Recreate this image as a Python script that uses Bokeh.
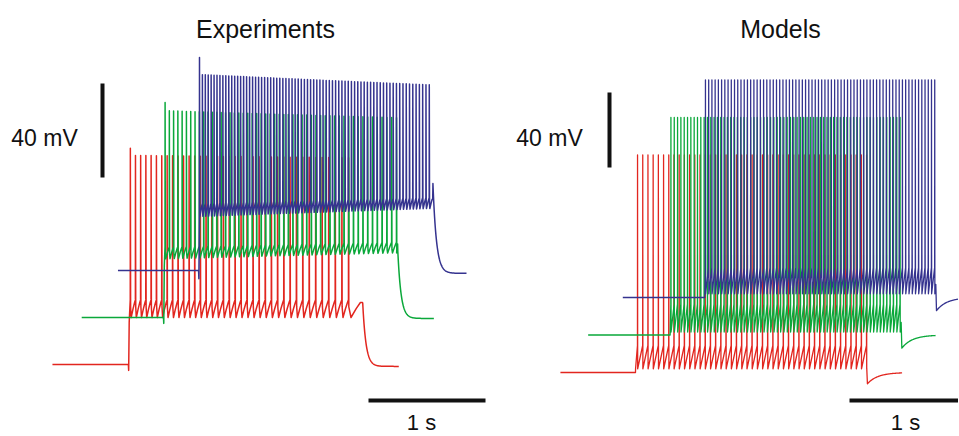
import numpy as np
from bokeh.plotting import figure
from bokeh.layouts import row
from bokeh.models import Range1d, Label
from bokeh.embed import file_html
from bokeh.resources import INLINE

# ---------------- data ----------------
trace_colors = ["#e2261f", "#0aa83a", "#35338f"]   # low, mid, high current step
STIM_DURATION_S = 2.0

# Experiments: recorded traces (time relative to current onset, seconds; voltage mV)
exp_start_s = [-0.65, -0.70, -0.69]
exp_end_s = [2.31, 2.31, 2.29]
exp_rest_mV = [-70.0, -70.0, -70.0]
exp_rest_after_mV = [-70.8, -70.4, -71.2]
exp_onset_dip_mV = [-72.5, -72.5, -73.5]
exp_step_mV = [-52.0, -48.0, -49.0]
exp_first_spike_s = [0.015, 0.012, 0.006]
exp_last_spike_s = [1.88, 1.99, 1.97]
exp_spike_count = [38, 52, 75]
exp_isi_adaptation = [1.30, 1.14, 1.14]
exp_peak_first_mV = [22.0, 21.5, 20.6]
exp_peak_early_mV = [19.0, 18.0, 13.4]
exp_peak_late_mV = [18.0, 15.0, 9.0]
exp_trough_early_mV = [-50.0, -45.0, -47.0]
exp_trough_late_mV = [-50.0, -42.5, -43.6]
exp_thr_early_mV = [-42.5, -40.0, -41.5]
exp_thr_late_mV = [-42.5, -38.0, -39.0]
exp_end_bump_mV = [-44.0, -42.0, -33.0]
exp_decay_tau_s = [0.028, 0.028, 0.03]

# Models: simulated traces
mod_start_s = [-0.65, -0.71, -0.71]
mod_end_s = [2.31, 2.30, 2.35]
mod_rest_mV = [-70.0, -70.0, -70.0]
mod_first_spike_s = [0.017, 0.006, 0.005]
mod_last_spike_s = [2.0, 1.99, 1.99]
mod_spike_count = [45, 70, 72]
mod_peak_mV = [46.0, 46.0, 46.0]
mod_trough_mV = [-68.0, -68.4, -68.0]
mod_thr_mV = [-55.6, -53.5, -54.0]
mod_post_dip_mV = [-76.0, -77.0, -77.0]
mod_recovery_tau_s = [0.09, 0.09, 0.09]

titles = ["Experiments", "Models"]
volt_bar_label = "40 mV"
time_bar_label = "1 s"
VOLT_BAR_MV = 40.0
TIME_BAR_S = 1.0

# ---------------- layout / style constants ----------------
STAGGER_S = 0.3
STAGGER_MV = 20.0
H = 435
FONT = "Liberation Sans"


def spike_times(first, last, n, ratio):
    w = np.linspace(1.0, ratio, n - 1)
    isi = w / w.sum() * (last - first)
    return np.concatenate([[first], first + np.cumsum(isi)])


def exp_trace(i):
    ts = spike_times(exp_first_spike_s[i], exp_last_spike_s[i], exp_spike_count[i], exp_isi_adaptation[i])
    n = len(ts)
    t = [exp_start_s[i], -0.001, 0.0015, 0.006]
    v = [exp_rest_mV[i], exp_rest_mV[i], exp_onset_dip_mV[i], exp_step_mV[i]]
    for k in range(n):
        f = k / (n - 1)
        pk = exp_peak_first_mV[i] if k == 0 else exp_peak_early_mV[i] + (exp_peak_late_mV[i] - exp_peak_early_mV[i]) * f
        tr = exp_trough_early_mV[i] + (exp_trough_late_mV[i] - exp_trough_early_mV[i]) * f
        th = exp_thr_early_mV[i] + (exp_thr_late_mV[i] - exp_thr_early_mV[i]) * f
        nxt = ts[k + 1] if k + 1 < n else STIM_DURATION_S
        isi = nxt - ts[k]
        s = ts[k]
        t += [s, s + 0.0008, s + 0.003, s + 0.18 * isi, s + 0.55 * isi, s + 0.85 * isi]
        v += [th, pk, th - 3, tr, tr + 0.5 * (th - tr), tr + 0.85 * (th - tr)]
    t += [STIM_DURATION_S, STIM_DURATION_S + 0.002]
    v += [v[-1], exp_end_bump_mV[i]]
    td = np.arange(STIM_DURATION_S + 0.004, exp_end_s[i], 0.003)
    vd = exp_rest_after_mV[i] + (exp_end_bump_mV[i] - exp_rest_after_mV[i]) * np.exp(-(td - STIM_DURATION_S - 0.002) / exp_decay_tau_s[i])
    t = np.concatenate([t, td])
    v = np.concatenate([v, vd])
    return t, v


def mod_trace(i):
    n = mod_spike_count[i]
    ts = np.linspace(mod_first_spike_s[i], mod_last_spike_s[i], n)
    isi = ts[1] - ts[0]
    t = [mod_start_s[i], 0.0, 0.0005]
    v = [mod_rest_mV[i], mod_rest_mV[i], mod_trough_mV[i]]
    for k in range(n):
        s = ts[k]
        t += [s, s + 0.0007, s + 0.0018]
        v += [mod_thr_mV[i], mod_peak_mV[i], mod_trough_mV[i]]
    last = ts[-1]
    t_end_stim = max(STIM_DURATION_S, last + 0.002)
    frac = min((t_end_stim - last) / isi, 1.0)
    t += [t_end_stim, t_end_stim + 0.006]
    v += [mod_trough_mV[i] + frac * (mod_thr_mV[i] - mod_trough_mV[i]), mod_post_dip_mV[i]]
    td = np.arange(t_end_stim + 0.01, mod_end_s[i], 0.004)
    vd = mod_rest_mV[i] + (mod_post_dip_mV[i] - mod_rest_mV[i]) * np.exp(-(td - t_end_stim - 0.006) / mod_recovery_tau_s[i])
    t = np.concatenate([t, td])
    v = np.concatenate([v, vd])
    return t, v


def make_panel(width, px_per_s, px_per_mV, onset_px, rest_px, builder, lw,
               title, title_px, vbar_px, vlabel_px, tbar_px, tlabel_px):
    # onset_px / rest_px: frame pixel of (t=0, first trace) and (rest -70 mV, first trace)
    x0 = -onset_px / px_per_s
    x1 = x0 + width / px_per_s
    y1 = -70.0 + rest_px / px_per_mV
    y0 = y1 - H / px_per_mV

    def X(px):
        return x0 + px / px_per_s

    def Y(py):
        return y1 - py / px_per_mV

    p = figure(width=width, height=H, output_backend="svg", toolbar_location=None,
               x_range=Range1d(x0, x1), y_range=Range1d(y0, y1),
               x_axis_type=None, y_axis_type=None, min_border=0,
               outline_line_color=None, background_fill_color="white",
               border_fill_color="white")
    p.grid.visible = False
    for i in range(3):
        t, v = builder(i)
        p.line(t + i * STAGGER_S, v + i * STAGGER_MV, line_color=trace_colors[i],
               line_width=lw, line_join="round")
    # scale bars
    vx, vy_bottom = X(vbar_px[0]), Y(vbar_px[1])
    p.line([vx, vx], [vy_bottom, vy_bottom + VOLT_BAR_MV], line_color="#111111",
           line_width=4, line_cap="butt")
    tx, ty = X(tbar_px[0]), Y(tbar_px[1])
    p.line([tx, tx + TIME_BAR_S], [ty, ty], line_color="#111111", line_width=4, line_cap="butt")
    for txt, (lx, ly), size in [(title, title_px, "25px"), (volt_bar_label, vlabel_px, "23px"),
                                (time_bar_label, tlabel_px, "22px")]:
        p.add_layout(Label(x=X(lx), y=Y(ly), text=txt, text_align="center",
                           text_baseline="middle", text_font=FONT, text_font_size=size,
                           text_color="#111111"))
    return p


left = make_panel(488, 117.0, 2.35, 128, 364, exp_trace, 1.5,
                  titles[0], (265, 28), (102, 177), (44, 137), (368, 400), (421, 422))
right = make_panel(470, 115.5, 1.875, 147, 372, mod_trace, 1.3,
                   titles[1], (292, 28), (121, 167), (61, 137), (361, 400), (417, 422))

layout = row(left, right)
open("out.html", "w").write(file_html(layout, INLINE))
